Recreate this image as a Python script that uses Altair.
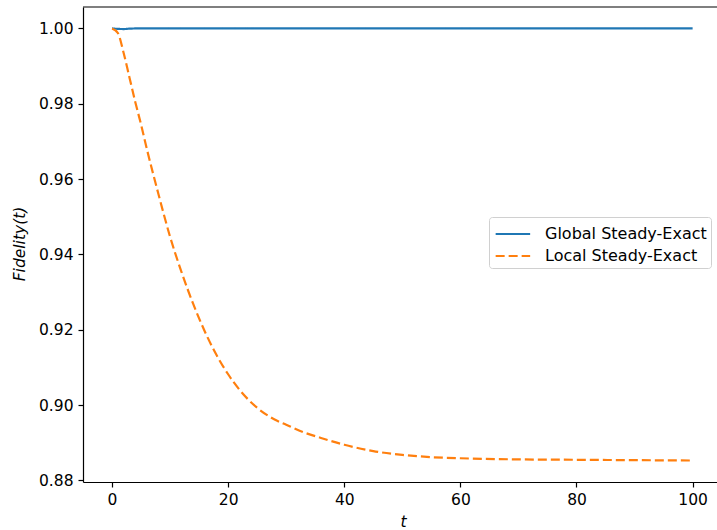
import altair as alt
import pandas as pd

# ---- data ----
global_t = [0, 1, 2, 3, 4, 10, 30, 60, 100]
global_v = [1.0, 0.9999, 0.99985, 0.99995, 1.0, 1.0, 1.0, 1.0, 1.0]

local_t = [0, 1, 2, 3, 4, 5, 6, 8, 10, 12, 14, 16, 18, 20, 22, 25, 28, 30, 33,
           36, 40, 45, 50, 55, 60, 70, 80, 90, 100]
local_v = [1.0, 0.9988, 0.9935, 0.9870, 0.9805, 0.9745, 0.9680, 0.9560, 0.9447,
           0.9352, 0.9268, 0.9195, 0.9133, 0.9082, 0.9040, 0.8993, 0.8962, 0.8948,
           0.8928, 0.8913, 0.8895, 0.8878, 0.8868, 0.8862, 0.8859, 0.8856, 0.8855,
           0.8854, 0.8853]

series_names = ["Global Steady-Exact", "Local Steady-Exact"]
series_colors = ["#1f77b4", "#ff7f0e"]
x_ticks = [0, 20, 40, 60, 80, 100]
y_ticks = [0.88, 0.90, 0.92, 0.94, 0.96, 0.98, 1.00]

df = pd.concat([
    pd.DataFrame({"t": global_t, "v": global_v, "series": series_names[0]}),
    pd.DataFrame({"t": local_t, "v": local_v, "series": series_names[1]}),
])

FONT = "DejaVu Sans"
FS = 15.5
W, H = 634, 475
xscale = alt.Scale(domain=[-5, 104.2], nice=False, zero=False)
yscale = alt.Scale(domain=[0.8796, 1.0057], nice=False, zero=False)

legend_cfg = alt.Legend(title=None, orient="none", legendX=406, legendY=210)

lines = alt.Chart(df).mark_line(strokeWidth=2.2, interpolate="monotone", strokeCap="butt").encode(
    x=alt.X("t:Q", scale=xscale,
            axis=alt.Axis(values=x_ticks, format="d", title="t",
                          titleFontStyle="italic", titleFontWeight="normal",
                          titleFontSize=FS, titleFont=FONT,
                          titleX=320, titleY=44, titleAlign="center",
                          titleBaseline="alphabetic", titleAnchor="start")),
    y=alt.Y("v:Q", scale=yscale,
            axis=alt.Axis(values=y_ticks, format=".2f", title="Fidelity(t)",
                          titleFontStyle="italic", titleFontWeight="normal",
                          titleFontSize=FS, titleFont=FONT,
                          titleX=-59, titleY=236.5, titleAngle=270,
                          titleAlign="center", titleBaseline="alphabetic",
                          titleAnchor="start")),
    color=alt.Color("series:N", scale=alt.Scale(domain=series_names, range=series_colors),
                    legend=legend_cfg),
    strokeDash=alt.StrokeDash("series:N",
                              scale=alt.Scale(domain=series_names, range=[[1, 0], [9, 4]]),
                              legend=legend_cfg),
)

# top spine of the frame
top_frame = alt.Chart(pd.DataFrame({"k": [0]})).mark_rule(color="#000", strokeWidth=1.2).encode(
    x=alt.value(0), x2=alt.value(W), y=alt.value(0)
)

chart = alt.layer(lines, top_frame).properties(
    width=W, height=H,
    autosize=alt.AutoSizeParams(type="none"),
    padding={"left": 83, "top": 7, "right": 0, "bottom": 48},
).configure_view(stroke=None).configure_axis(
    grid=False,
    domainColor="#000", domainWidth=1.2,
    tickColor="#000", tickSize=5, tickWidth=1.2,
    labelFont=FONT, labelFontSize=FS, labelColor="#000",
    labelPadding=5, titleColor="#000",
).configure_legend(
    labelFont=FONT, labelFontSize=16, labelColor="#000", labelLimit=300,
    symbolType="M-0.9,0H2.1", symbolSize=529, symbolStrokeWidth=2.2,
    labelOffset=26, padding=4, rowPadding=1,
    strokeColor="#d0d0d0", fillColor="rgba(255,255,255,0.8)", cornerRadius=3,
)

chart.save("out.html", embed_options={"renderer": "svg", "actions": False})
